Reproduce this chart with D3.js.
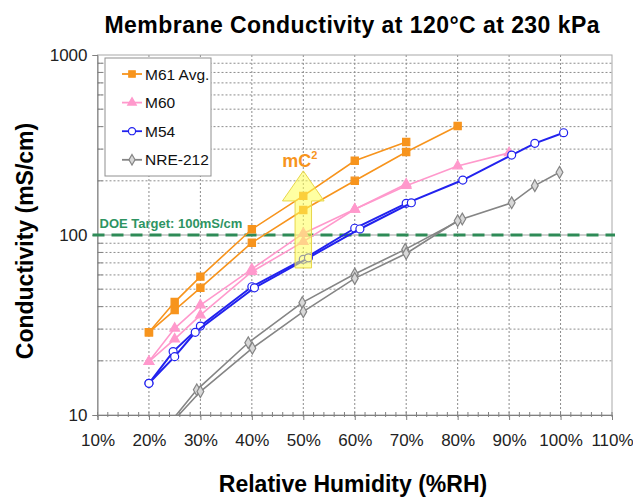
<!DOCTYPE html>
<html>
<head>
<meta charset="utf-8">
<script src="https://cdn.jsdelivr.net/npm/d3@7"></script>
<style>
  body { margin: 0; background: #fff; }
  text { font-family: "Liberation Sans", Arial, sans-serif; }
</style>
</head>
<body>
<svg id="chart" width="633" height="498"></svg>
<script>
// Relative humidity (%) and conductivity (mS/cm), two runs per membrane
const m61RunA_rh = [20, 25, 30, 40, 50, 60, 70];
const m61RunA = [28.8, 42.4, 58.7, 107.6, 165, 258.6, 328.6];
const m61RunB_rh = [20, 25, 30, 40, 50, 60, 70, 80];
const m61RunB = [28.8, 38.3, 50.9, 90.6, 137.7, 200, 289, 403];

const m60RunA_rh = [20, 25, 30, 40, 50, 60, 70];
const m60RunA = [19.8, 30.3, 40.8, 64.7, 102, 139, 192];
const m60RunB_rh = [20, 25, 30, 40, 50, 60, 70, 80, 90];
const m60RunB = [19.8, 26.4, 35.9, 62.5, 91.8, 139, 188, 241.5, 286];

const m54RunA_rh = [20, 24.7, 30, 40, 50, 60, 70, 81, 90.5, 95, 100.6];
const m54RunA = [15, 22.5, 31.2, 51.6, 73.3, 109, 150, 202, 278, 323, 370];
const m54RunB_rh = [20, 25, 29, 40.5, 51, 61, 71];
const m54RunB = [15, 21.1, 28.8, 50.9, 74.7, 108, 151];

const nreRunA_rh = [24, 29.3, 39.3, 49.8, 60, 69.8, 80.9, 90.5, 95, 99.8];
const nreRunA = [9.0, 13.8, 25.2, 42.1, 60.7, 83.2, 122.7, 151, 188, 223];
const nreRunB_rh = [24, 30, 40.1, 50, 60, 70, 80];
const nreRunB = [8.8, 13.5, 23.5, 37.5, 57.4, 79, 120];

const seriesNames = ["M61 Avg.", "M60", "M54", "NRE-212"];
const xTicks = [10, 20, 30, 40, 50, 60, 70, 80, 90, 100, 110];
const yTicks = [10, 100, 1000];
const doeTarget = 100;
// mC2 arrow annotation: RH position, tip / head base / tail in mS/cm
const arrowAt = { rh: 50, tip: 227, head: 154.6, tail: 65.6, headHalf: 4.05, shaftHalf: 1.6 };

const styles = {
  "M61 Avg.": { color: "#f7941d", shape: d3.symbolSquare, size: 52, fill: "#f7941d" },
  "M60": { color: "#ff99cc", shape: d3.symbolTriangle, size: 40, fill: "#ff99cc" },
  "M54": { color: "#2222ee", shape: d3.symbolCircle, size: 50, fill: "#fff" },
  "NRE-212": { color: "#858585", shape: d3.symbolDiamond, size: 40, fill: "#d8d8d8" }
};

const runs = [
  { name: "M61 Avg.", rh: m61RunA_rh, val: m61RunA },
  { name: "M61 Avg.", rh: m61RunB_rh, val: m61RunB },
  { name: "M60", rh: m60RunA_rh, val: m60RunA },
  { name: "M60", rh: m60RunB_rh, val: m60RunB },
  { name: "NRE-212", rh: nreRunA_rh, val: nreRunA },
  { name: "NRE-212", rh: nreRunB_rh, val: nreRunB },
  { name: "M54", rh: m54RunA_rh, val: m54RunA },
  { name: "M54", rh: m54RunB_rh, val: m54RunB }
];

const svg = d3.select("#chart");
const pLeft = 97.5, pRight = 612, pTop = 55, pBottom = 415;

const x = d3.scaleLinear().domain([10, 110]).range([pLeft, pRight]);
const y = d3.scaleLog().domain([10, 1000]).range([pBottom, pTop]);

svg.append("defs").append("clipPath").attr("id", "plotClip")
  .append("rect").attr("x", pLeft).attr("y", pTop)
  .attr("width", pRight - pLeft).attr("height", pBottom - pTop);

// minor values for log grid
const yMinor = [];
[10, 100].forEach(d => { for (let k = 2; k <= 9; k++) yMinor.push(d * k); });
const xMinor = d3.range(10, 110.01, 2);

// grid
const grid = svg.append("g");
grid.selectAll(".hg").data(yMinor).enter().append("line")
  .attr("x1", pLeft).attr("x2", pRight)
  .attr("y1", d => y(d)).attr("y2", d => y(d))
  .attr("stroke", "#8c8c8c").attr("stroke-width", 1).attr("stroke-dasharray", "2,2");
grid.selectAll(".vg").data(xTicks.slice(1, -1)).enter().append("line")
  .attr("x1", d => x(d)).attr("x2", d => x(d))
  .attr("y1", pTop).attr("y2", pBottom)
  .attr("stroke", "#8c8c8c").attr("stroke-width", 1).attr("stroke-dasharray", "2,2");
grid.append("line").attr("x1", pLeft).attr("x2", pRight)
  .attr("y1", y(100)).attr("y2", y(100)).attr("stroke", "#a0a0a0");

// frame
svg.append("rect").attr("x", pLeft).attr("y", pTop)
  .attr("width", pRight - pLeft).attr("height", pBottom - pTop)
  .attr("fill", "none").attr("stroke", "#a8a8a8");

// x axis
const xAxis = svg.append("g").attr("transform", `translate(0,${pBottom})`)
  .call(d3.axisBottom(x).tickValues(xTicks).tickSize(5).tickFormat(d => d + "%"));
xAxis.select(".domain").attr("stroke", "#808080");
xAxis.selectAll(".tick line").attr("stroke", "#808080");
xAxis.selectAll("text").attr("font-size", 17).attr("fill", "#222").attr("dy", "1.35em");
svg.append("g").selectAll("line").data(xMinor).enter().append("line")
  .attr("x1", d => x(d)).attr("x2", d => x(d))
  .attr("y1", pBottom - 3).attr("y2", pBottom + 2)
  .attr("stroke", "#808080");

// y axis
const yAxis = svg.append("g").attr("transform", `translate(${pLeft},0)`)
  .call(d3.axisLeft(y).tickValues(yTicks).tickSize(5).tickFormat(d3.format("d")));
yAxis.select(".domain").attr("stroke", "#808080");
yAxis.selectAll(".tick line").attr("stroke", "#808080");
yAxis.selectAll("text").attr("font-size", 17).attr("fill", "#222").attr("x", -10);
svg.append("g").selectAll("line").data(yMinor).enter().append("line")
  .attr("x1", pLeft).attr("x2", pLeft + 5)
  .attr("y1", d => y(d)).attr("y2", d => y(d))
  .attr("stroke", "#808080");

// DOE target
svg.append("line")
  .attr("x1", pLeft - 5).attr("x2", pRight + 3)
  .attr("y1", y(doeTarget)).attr("y2", y(doeTarget))
  .attr("stroke", "#2e8b57").attr("stroke-width", 3.2).attr("stroke-dasharray", "12,7");
svg.append("text").attr("x", pLeft + 2).attr("y", y(doeTarget) - 7)
  .attr("font-size", 13).attr("font-weight", "bold").attr("fill", "#2e9462")
  .text("DOE Target: 100mS/cm");

// data
const plot = svg.append("g").attr("clip-path", "url(#plotClip)");
const line = d3.line().x(d => x(d[0])).y(d => y(d[1]));
runs.forEach(r => {
  const st = styles[r.name];
  const pts = r.rh.map((h, i) => [h, r.val[i]]);
  plot.append("path").datum(pts)
    .attr("fill", "none").attr("stroke", st.color).attr("stroke-width", r.name === "M54" ? 2 : 1.6)
    .attr("d", line);
  plot.selectAll(null).data(pts).enter().append("path")
    .attr("transform", d => `translate(${x(d[0])},${y(d[1])})`)
    .attr("d", d3.symbol().type(st.shape).size(st.size))
    .attr("fill", st.fill).attr("stroke", st.color).attr("stroke-width", 1.2);
});

// mC2 arrow
const a = arrowAt;
const arrowPts = [
  [a.rh, a.tip], [a.rh + a.headHalf, a.head], [a.rh + a.shaftHalf, a.head],
  [a.rh + a.shaftHalf, a.tail], [a.rh - a.shaftHalf, a.tail], [a.rh - a.shaftHalf, a.head],
  [a.rh - a.headHalf, a.head]
];
svg.append("polygon")
  .attr("points", arrowPts.map(p => [x(p[0]), y(p[1])].join(",")).join(" "))
  .attr("fill", "#ffff55").attr("fill-opacity", 0.55)
  .attr("stroke", "#e8d64a").attr("stroke-width", 1);
const mc = svg.append("text").attr("x", x(a.rh) - 21).attr("y", y(a.tip) - 4)
  .attr("font-size", 18).attr("font-weight", "bold").attr("fill", "#f7941d");
mc.append("tspan").text("mC");
mc.append("tspan").attr("font-size", 11).attr("dy", -8).text("2");

// legend
const lg = svg.append("g").attr("transform", "translate(105,58)");
lg.append("rect").attr("width", 106).attr("height", 118)
  .attr("fill", "#fff").attr("stroke", "#909090");
seriesNames.forEach((n, i) => {
  const st = styles[n];
  const cy = 16 + i * 28.6;
  lg.append("line").attr("x1", 17).attr("x2", 37).attr("y1", cy).attr("y2", cy)
    .attr("stroke", st.color).attr("stroke-width", 1.8);
  lg.append("path").attr("transform", `translate(27,${cy})`)
    .attr("d", d3.symbol().type(st.shape).size(st.size * 0.8))
    .attr("fill", st.fill).attr("stroke", st.color).attr("stroke-width", 1.2);
  lg.append("text").attr("x", 40).attr("y", cy + 5.5)
    .attr("font-size", 15.5).attr("fill", "#111").text(n);
});

// titles
svg.append("text").attr("x", 352).attr("y", 33).attr("text-anchor", "middle")
  .attr("font-size", 23).attr("font-weight", "bold").attr("fill", "#000")
  .attr("textLength", 495).attr("lengthAdjust", "spacing")
  .text("Membrane Conductivity at 120°C at 230 kPa");
svg.append("text").attr("x", 353).attr("y", 492).attr("text-anchor", "middle")
  .attr("font-size", 23).attr("font-weight", "bold").attr("fill", "#000")
  .text("Relative Humidity (%RH)");
svg.append("text").attr("transform", "translate(33,241) rotate(-90)")
  .attr("text-anchor", "middle")
  .attr("font-size", 23).attr("font-weight", "bold").attr("fill", "#000")
  .text("Conductivity (mS/cm)");
</script>
</body>
</html>
